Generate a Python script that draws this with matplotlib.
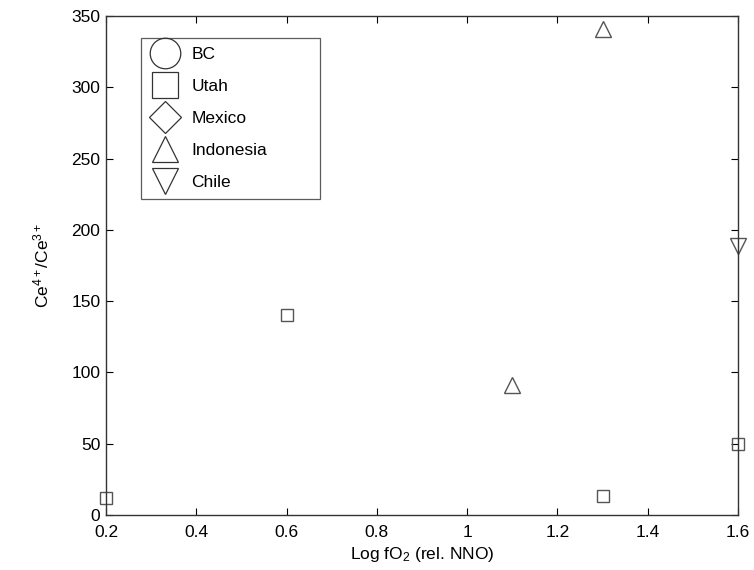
import numpy as np
import matplotlib.pyplot as plt
from matplotlib.lines import Line2D

plt.rcParams['font.family'] = ['Liberation Sans', 'DejaVu Sans']
plt.rcParams['mathtext.fontset'] = 'custom'
plt.rcParams['mathtext.rm'] = 'Liberation Sans'
plt.rcParams['mathtext.it'] = 'Liberation Sans'

# Ce4+/Ce3+ against log fO2 for each locality
utah_x = [0.2, 0.6, 1.3, 1.6]
utah_y = [12, 140, 13, 50]
indonesia_x = [1.1, 1.3]
indonesia_y = [91, 341]
chile_x = [1.6]
chile_y = [189]

legend_names = ['BC', 'Utah', 'Mexico', 'Indonesia', 'Chile']
legend_markers = ['o', 's', 'D', '^', 'v']

x_ticks = [0.2, 0.4, 0.6, 0.8, 1.0, 1.2, 1.4, 1.6]
x_labels = ['0.2', '0.4', '0.6', '0.8', '1', '1.2', '1.4', '1.6']
y_ticks = [0, 50, 100, 150, 200, 250, 300, 350]

col = '#555555'

fig = plt.figure(figsize=(7.54, 5.70), dpi=100)
ax = fig.add_axes([0.1406, 0.0965, 0.8382, 0.8754])

ax.plot(utah_x, utah_y, 's', ms=8.5, mfc='none', mec=col, mew=1.0, clip_on=False)
ax.plot(indonesia_x, indonesia_y, '^', ms=11, mfc='none', mec=col, mew=1.0, clip_on=False)
ax.plot(chile_x, chile_y, 'v', ms=11, mfc='none', mec=col, mew=1.0, clip_on=False)

ax.set_xlim(0.2, 1.6)
ax.set_ylim(0, 350)
ax.set_xticks(x_ticks)
ax.set_xticklabels(x_labels)
ax.set_yticks(y_ticks)
ax.tick_params(direction='in', top=True, right=True, length=5, width=0.8,
               labelsize=12.5)
ax.tick_params(axis='x', pad=7)
ax.tick_params(axis='y', pad=4)
for s in ax.spines.values():
    s.set_linewidth(1.0)
    s.set_color('#333333')

ax.set_xlabel('Log fO$_2$ (rel. NNO)', fontsize=12.5, labelpad=4)
ax.set_ylabel('Ce$^{4+}$/Ce$^{3+}$', fontsize=12.5, labelpad=14)

# oversized markers in the legend box
sizes = [22, 19, 16, 19, 19]
handles = [Line2D([], [], ls='none', marker=m, ms=sz, mfc='none', mec='#333333', mew=0.9)
           for m, sz in zip(legend_markers, sizes)]
leg = ax.legend(handles, legend_names, loc='upper left',
                bbox_to_anchor=(0.0554, 0.637, 0.283, 0.319), mode='expand',
                fontsize=12.5, frameon=True, fancybox=False, edgecolor='#333333',
                labelspacing=0.98, handletextpad=0.6, borderpad=0.5,
                handlelength=1.8, borderaxespad=0)
leg.get_frame().set_linewidth(0.9)

fig.savefig('out.png', dpi=100)
